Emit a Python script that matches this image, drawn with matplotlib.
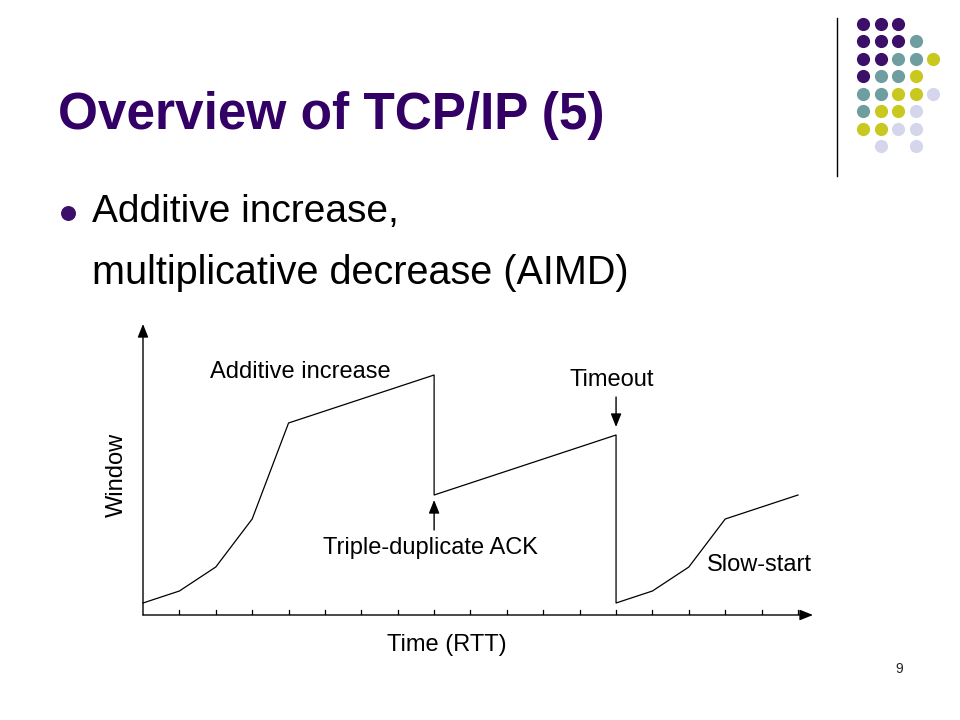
import matplotlib
matplotlib.use("Agg")
import matplotlib.pyplot as plt

plt.rcParams['font.family'] = ['Liberation Sans', 'DejaVu Sans']

# window size per RTT (two points at the same t = a drop)
rtt = [0, 1, 2, 3, 4, 8, 8, 13, 13, 14, 15, 16, 18]
window = [12, 24, 48, 96, 192, 240, 120, 180, 12, 24, 48, 96, 120]
ticks = list(range(19))

# dot grid at top right, rows top to bottom, columns left to right
dot_grid = [
    "PPP..",
    "PPPT.",
    "PPTTY",
    "PTTY.",
    "TTYYL",
    "TYYL.",
    "YYLL.",
    ".L.L.",
]
dot_colors = {"P": "#3C0F69", "T": "#6E9EA0", "Y": "#C8C81E", "L": "#D5D5EC"}

W, H = 960, 720
fig = plt.figure(figsize=(9.6, 7.2), dpi=100)

# background axes in pixel coordinates (y downwards)
bg = fig.add_axes([0, 0, 1, 1])
bg.set_xlim(0, W)
bg.set_ylim(H, 0)
bg.axis("off")

purple = "#330066"
bg.text(58, 115, "Overview of TCP/IP (5)", fontsize=37, fontweight="bold",
        color=purple, va="center", ha="left")
bg.scatter([68], [213], s=95, color="#3C0F69", zorder=3)
bg.text(92, 212, "Additive increase,", fontsize=28, va="center", ha="left")
bg.text(92, 273, "multiplicative decrease (AIMD)", fontsize=28.5, va="center", ha="left")
bg.text(899, 669, "9", fontsize=10, va="center", ha="center", color="#222222")
bg.text(117, 475, "Window", fontsize=17, rotation=90, va="center", ha="center")

bg.plot([837, 837], [18, 176], color="black", lw=1)
for r, row in enumerate(dot_grid):
    for c, ch in enumerate(row):
        if ch == ".":
            continue
        bg.scatter([863 + c * 17.5], [23.5 + r * 17.5], s=90,
                   color=dot_colors[ch], linewidths=0)

# chart axes: t = 0 at x=143, t = 18 at x=798, 1 unit = 1 px vertically
x0, y0, x1, y1 = 143, 615, 813, 324
ax = fig.add_axes([x0 / W, (H - y0) / H, (x1 - x0) / W, (y0 - y1) / H])
px_per_rtt = (798 - 143) / 18
ax.set_xlim(0, (x1 - x0) / px_per_rtt)
ax.set_ylim(0, y0 - y1)
ax.axis("off")

xmax = (x1 - x0) / px_per_rtt
ymax = y0 - y1
arrow = dict(arrowstyle="-|>,head_width=0.32,head_length=0.8", color="black",
             lw=1, shrinkA=0, shrinkB=0)
ax.annotate("", xy=(xmax, 0), xytext=(0, 0), arrowprops=arrow, annotation_clip=False)
ax.annotate("", xy=(0, ymax), xytext=(0, 0), arrowprops=arrow, annotation_clip=False)
for t in ticks[1:]:
    ax.plot([t, t], [0, 5], color="black", lw=0.9)

ax.plot(rtt, window, color="black", lw=0.9, clip_on=False)

ax.text(1.84, 243, "Additive increase", fontsize=17, va="center", ha="left")
ax.text(12.89, 235, "Timeout", fontsize=17, va="center", ha="center")
ax.text(7.89, 67, "Triple-duplicate ACK", fontsize=17, va="center", ha="center")
ax.text(15.5, 50, "Slow-start", fontsize=17, va="center", ha="left")
ax.text(8.35, -30, "Time (RTT)", fontsize=17, va="center", ha="center", clip_on=False)

ax.annotate("", xy=(13, 188), xytext=(13, 218), arrowprops=arrow, annotation_clip=False)
ax.annotate("", xy=(8, 115), xytext=(8, 85), arrowprops=arrow, annotation_clip=False)

fig.savefig("out.png", dpi=100)
